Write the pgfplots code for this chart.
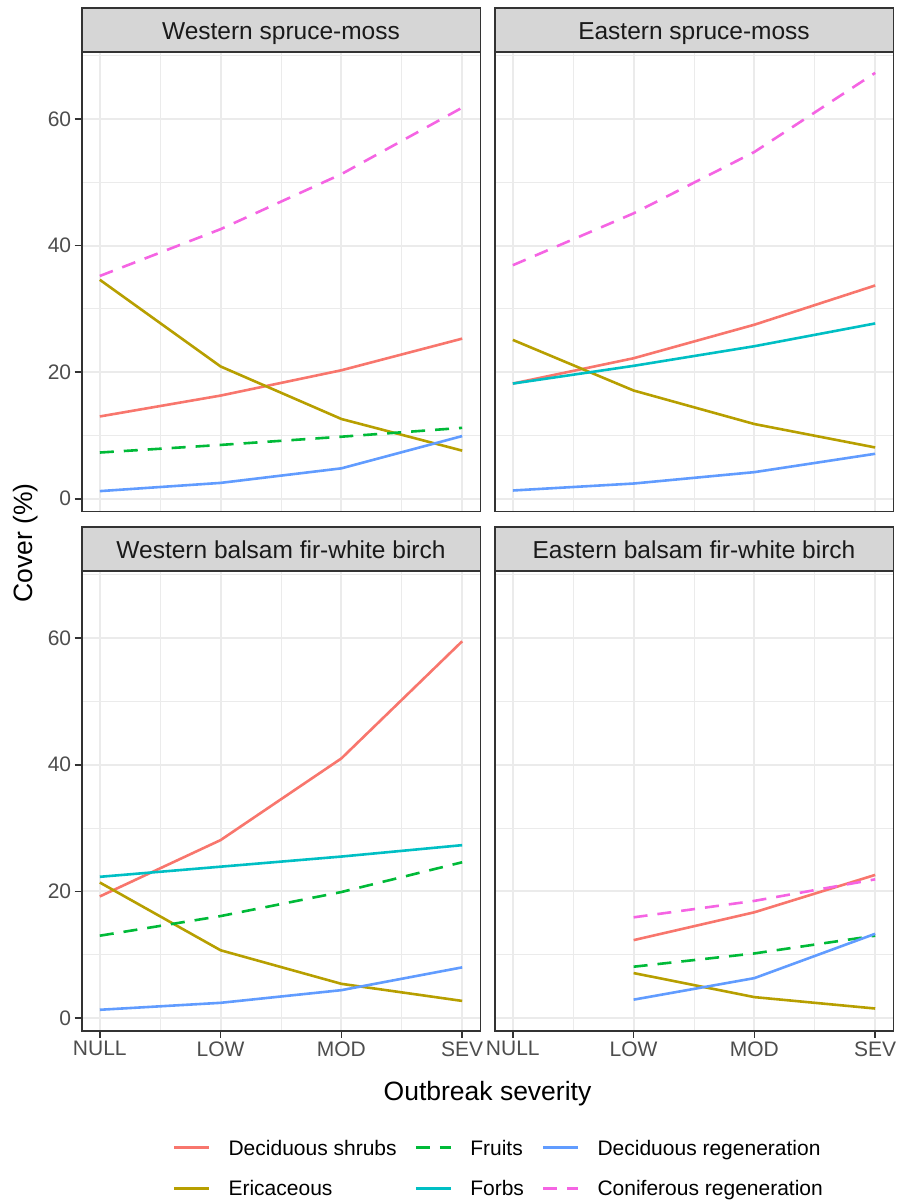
\documentclass[border=0pt]{standalone}
\usepackage{fontspec}
\setmainfont{Liberation Sans}
\usepackage{pgfplots}
\pgfplotsset{compat=1.18}

\definecolor{gA}{HTML}{333333}
\definecolor{gB}{HTML}{4D4D4D}
\definecolor{gC}{HTML}{1A1A1A}
\definecolor{gridc}{HTML}{EBEBEB}
\definecolor{stripfill}{HTML}{D6D6D6}
\definecolor{cRed}{HTML}{F8766D}
\definecolor{cOli}{HTML}{B79F00}
\definecolor{cGre}{HTML}{00BA38}
\definecolor{cTea}{HTML}{00BFC4}
\definecolor{cBlu}{HTML}{619CFF}
\definecolor{cMag}{HTML}{F564E3}

\pgfplotsset{
  panel/.style={
    scale only axis, width=398.6pt, anchor=south west,
    xmin=-0.15, xmax=3.15, ymin=-2.05, ymax=70.6,
    xtick={0,1,2,3}, minor xtick={0.5,1.5,2.5},
    ytick={0,20,40,60}, minor ytick={10,30,50,70},
    xticklabels={NULL,LOW,MOD,SEV},
    grid=both,
    major grid style={draw=gridc, line width=2pt},
    minor grid style={draw=gridc, line width=1pt},
    axis line style={draw=gA, line width=1.6pt},
    tick align=outside, tick pos=left,
    major tick length=7pt, minor tick length=0pt,
    every tick/.style={draw=gA, line width=1.6pt},
    tick label style={font=\fontsize{21}{25}\selectfont, text=gB},
    /pgf/number format/assume math mode=true,
  },
  noxt/.style={xticklabels={}, xtick style={draw=none}},
  noyt/.style={yticklabels={}, ytick style={draw=none}},
  ln/.style={line width=2.6pt, line join=round},
  dsh/.style={line width=2.6pt, line join=round, dash pattern=on 14pt off 10pt},
}

\begin{document}
\begin{tikzpicture}
\useasboundingbox (0pt,0pt) rectangle (897pt,1201pt);

% ---------- Top-left: Western spruce-moss
\begin{axis}[panel, noxt, height=459.7pt, at={(81.7pt,689.3pt)}]
\addplot[ln, cRed] coordinates {(0,13.0) (1,16.3) (2,20.3) (3,25.3)};
\addplot[ln, cOli] coordinates {(0,34.6) (1,20.9) (2,12.6) (3,7.6)};
\addplot[dsh, cGre] coordinates {(0,7.3) (1,8.5) (2,9.8) (3,11.2)};
\addplot[ln, cBlu] coordinates {(0,1.2) (1,2.5) (2,4.8) (3,9.9)};
\addplot[dsh, cMag] coordinates {(0,35.2) (1,42.6) (2,51.3) (3,61.8)};
\end{axis}

% ---------- Top-right: Eastern spruce-moss
\begin{axis}[panel, noxt, noyt, height=459.7pt, at={(494.7pt,689.3pt)}]
\addplot[ln, cRed] coordinates {(0,18.2) (1,22.2) (2,27.5) (3,33.7)};
\addplot[ln, cOli] coordinates {(0,25.1) (1,17.1) (2,11.8) (3,8.1)};
\addplot[ln, cTea] coordinates {(0,18.2) (1,21.0) (2,24.1) (3,27.7)};
\addplot[ln, cBlu] coordinates {(0,1.3) (1,2.4) (2,4.2) (3,7.1)};
\addplot[dsh, cMag] coordinates {(0,36.9) (1,45.1) (2,54.8) (3,67.3)};
\end{axis}

% ---------- Bottom-left: Western balsam fir-white birch
\begin{axis}[panel, height=460pt, at={(81.7pt,170pt)},
  legend columns=3, legend cell align=left,
  legend image code/.code={\draw[#1] (0pt,0pt) -- (35pt,0pt);},
  legend style={at={(0.229,-0.2374)}, anchor=north west, draw=none, fill=none,
    inner sep=0pt, outer sep=0pt, column sep=18pt, row sep=25.6pt,
    font=\fontsize{21}{25}\selectfont, text=black,
    nodes={inner sep=0pt, text height=15pt, text depth=0pt}}]
\addplot[ln, cRed, forget plot] coordinates {(0,19.2) (1,28.1) (2,41.0) (3,59.5)};
\addplot[ln, cOli, forget plot] coordinates {(0,21.4) (1,10.7) (2,5.4) (3,2.7)};
\addplot[dsh, cGre, forget plot] coordinates {(0,13.0) (1,16.1) (2,19.9) (3,24.6)};
\addplot[ln, cTea, forget plot] coordinates {(0,22.3) (1,23.9) (2,25.5) (3,27.3)};
\addplot[ln, cBlu, forget plot] coordinates {(0,1.3) (1,2.4) (2,4.4) (3,8.0)};
\addlegendimage{ln, cRed}
\addlegendentry{Deciduous shrubs}
\addlegendimage{dsh, cGre}
\addlegendentry{Fruits}
\addlegendimage{ln, cBlu}
\addlegendentry{Deciduous regeneration}
\addlegendimage{ln, cOli}
\addlegendentry{Ericaceous}
\addlegendimage{ln, cTea}
\addlegendentry{Forbs}
\addlegendimage{dsh, cMag}
\addlegendentry{Coniferous regeneration}
\end{axis}

% ---------- Bottom-right: Eastern balsam fir-white birch
\begin{axis}[panel, noyt, height=460pt, at={(494.7pt,170pt)}]
\addplot[ln, cRed] coordinates {(1,12.3) (2,16.7) (3,22.6)};
\addplot[ln, cOli] coordinates {(1,7.1) (2,3.3) (3,1.5)};
\addplot[dsh, cGre] coordinates {(1,8.1) (2,10.2) (3,13.0)};
\addplot[ln, cBlu] coordinates {(1,2.9) (2,6.3) (3,13.3)};
\addplot[dsh, cMag] coordinates {(1,15.9) (2,18.5) (3,21.9)};
\end{axis}

% ---------- Strips
\draw[fill=stripfill, draw=gA, line width=1.6pt] (81.7pt,1149pt) rectangle (480.3pt,1193pt);
\draw[fill=stripfill, draw=gA, line width=1.6pt] (494.7pt,1149pt) rectangle (893.3pt,1193pt);
\draw[fill=stripfill, draw=gA, line width=1.6pt] (81.7pt,630pt) rectangle (480.3pt,674pt);
\draw[fill=stripfill, draw=gA, line width=1.6pt] (494.7pt,630pt) rectangle (893.3pt,674pt);
\begin{scope}[every node/.style={anchor=base, font=\fontsize{24.5}{28}\selectfont, text=gC, inner sep=0pt}]
\node at (281pt,1161.7pt) {Western spruce-moss};
\node at (694pt,1161.7pt) {Eastern spruce-moss};
\node at (281pt,642.7pt) {Western balsam fir-white birch};
\node at (694pt,642.7pt) {Eastern balsam fir-white birch};
\end{scope}

% ---------- Axis titles
\node[anchor=base, inner sep=0pt, font=\fontsize{26.5}{30}\selectfont] at (487.5pt,100pt) {Outbreak severity};
\node[rotate=90, anchor=center, inner sep=0pt, font=\fontsize{26.5}{30}\selectfont] at (26pt,658pt) {Cover (\%)};
\end{tikzpicture}
\end{document}
